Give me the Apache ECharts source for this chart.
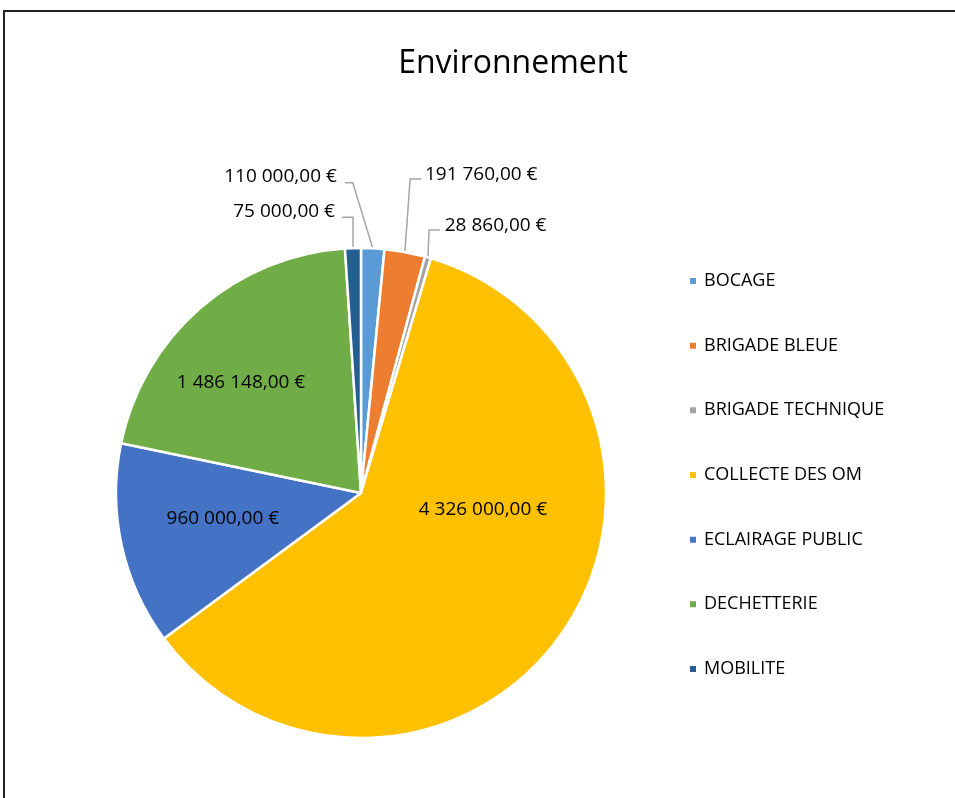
<!DOCTYPE html>
<html>
<head>
<meta charset="utf-8">
<script src="https://cdn.jsdelivr.net/npm/echarts@6/dist/echarts.min.js"></script>
<style>
  html, body { margin: 0; padding: 0; background: #fff; }
  #chart { width: 955px; height: 798px; }
</style>
</head>
<body>
<div id="chart"></div>
<script>
// ---- Data ----
const titleText = 'Environnement';
const categories = ['BOCAGE', 'BRIGADE BLEUE', 'BRIGADE TECHNIQUE', 'COLLECTE DES OM', 'ECLAIRAGE PUBLIC', 'DECHETTERIE', 'MOBILITE'];
const values = [110000, 191760, 28860, 4326000, 960000, 1486148, 75000];

// ---- Styles ----
const colors = ['#5B9BD5', '#ED7D31', '#A5A5A5', '#FFC000', '#4472C4', '#70AD47', '#255E91'];
const insideLabel = [false, false, false, true, true, true, false];
// label placement tweaks (offsets relative to the library's anchor)
const outsideLayout = {
  0: { elbow: [-20, -65.6], end: [-28, -65.6], label: [-36, -71.3], align: 'right' },
  1: { elbow: [5.2, -72.9], end: [16.2, -72.9], label: [20, -77.4], align: 'left' },
  2: { elbow: [1.1, -27.3], end: [12.1, -27.3], label: [16.8, -31.8], align: 'left' },
  6: { elbow: [0, -30.8], end: [-11, -30.8], label: [-18, -36.4], align: 'right' }
};
const insideShift = {
  3: [19.2, -55.1],
  4: [-15.6, -1.2],
  5: [-37.6, -16.1]
};

const FONT = '"Open Sans", "Noto Sans", sans-serif';

function fmtEuro(v) {
  const parts = v.toFixed(2).split('.');
  const intPart = parts[0].replace(/\B(?=(\d{3})+(?!\d))/g, ' ');
  return intPart + ',' + parts[1] + ' €';
}

const chart = echarts.init(document.getElementById('chart'), null, { renderer: 'canvas' });

const pieData = categories.map((name, i) => ({
  name: name,
  value: values[i],
  itemStyle: { color: colors[i] },
  label: { position: insideLabel[i] ? 'inside' : 'outside' },
  labelLine: { show: !insideLabel[i] }
}));

const option = {
  animation: false,
  backgroundColor: '#fff',
  title: {
    text: titleText,
    left: 508,
    top: 39,
    textAlign: 'center',
    textStyle: { fontFamily: FONT, fontSize: 32, fontWeight: 'normal', color: '#000', lineHeight: 40 }
  },
  legend: {
    orient: 'vertical',
    left: 683,
    top: 266,
    itemGap: 44.67,
    itemWidth: 8,
    itemHeight: 8,
    icon: 'rect',
    data: categories,
    selectedMode: false,
    textStyle: { fontFamily: FONT, fontSize: 18, color: '#000', lineHeight: 20, padding: [0, 0, 0, 2] }
  },
  graphic: [
    { type: 'line', shape: { x1: 4, y1: 11, x2: 955, y2: 11 }, style: { stroke: '#222', lineWidth: 2 }, silent: true },
    { type: 'line', shape: { x1: 4, y1: 10, x2: 4, y2: 798 }, style: { stroke: '#222', lineWidth: 2 }, silent: true }
  ],
  series: [{
    type: 'pie',
    center: [361, 493],
    radius: 245,
    startAngle: 90,
    clockwise: true,
    avoidLabelOverlap: false,
    silent: true,
    itemStyle: { borderColor: '#fff', borderWidth: 2.5 },
    label: {
      show: true,
      formatter: p => fmtEuro(p.value),
      fontFamily: FONT,
      fontSize: 19,
      color: '#000'
    },
    labelLine: {
      show: true,
      length: 10,
      length2: 10,
      lineStyle: { color: '#A6A6A6', width: 1.5 }
    },
    labelLayout: function (params) {
      const i = params.dataIndex;
      if (outsideLayout[i] && params.labelLinePoints) {
        const a = params.labelLinePoints[0];
        const c = outsideLayout[i];
        return {
          x: a[0] + c.label[0],
          y: a[1] + c.label[1],
          align: c.align,
          verticalAlign: 'middle',
          labelLinePoints: [
            [a[0], a[1]],
            [a[0] + c.elbow[0], a[1] + c.elbow[1]],
            [a[0] + c.end[0], a[1] + c.end[1]]
          ]
        };
      }
      if (insideShift[i]) {
        return { dx: insideShift[i][0], dy: insideShift[i][1] };
      }
      return {};
    },
    emphasis: { disabled: true },
    data: pieData
  }]
};

chart.setOption(option);
</script>
</body>
</html>
